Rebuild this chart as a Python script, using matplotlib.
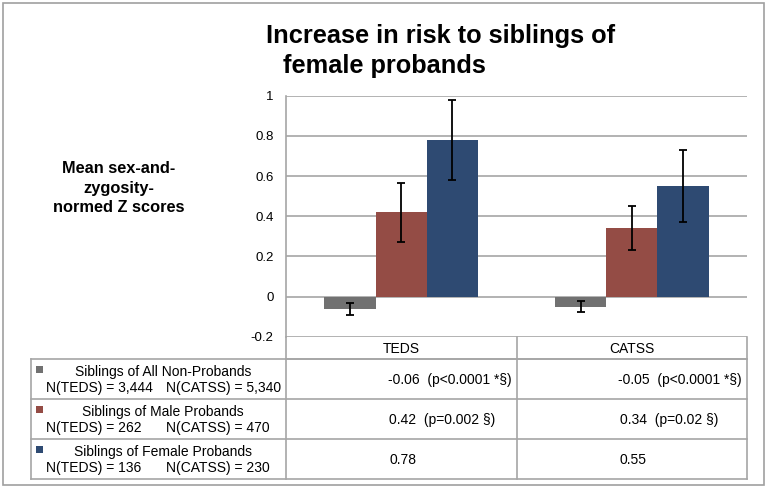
import matplotlib
matplotlib.use("Agg")
import matplotlib.pyplot as plt
from matplotlib.patches import Rectangle
from matplotlib.lines import Line2D
import numpy as np

# ---- data ----
categories = ["TEDS", "CATSS"]
series_names = ["Siblings of All Non-Probands", "Siblings of Male Probands", "Siblings of Female Probands"]
n_teds = ["3,444", "262", "136"]
n_catss = ["5,340", "470", "230"]
nonproband = [-0.06, -0.05]
male = [0.42, 0.34]
female = [0.78, 0.55]
err_nonproband = [0.03, 0.028]
err_male = [0.146, 0.11]
err_female = [0.20, 0.18]
p_nonproband = ["p<0.0001 *§", "p<0.0001 *§"]
p_male = ["p=0.002 §", "p=0.02 §"]
p_female = ["", ""]
yticks = [-0.2, 0, 0.2, 0.4, 0.6, 0.8, 1]
ytick_labels = ["-0.2", "0", "0.2", "0.4", "0.6", "0.8", "1"]

colors = ["#717171", "#944c45", "#2e4a72"]
values = [nonproband, male, female]
errors = [err_nonproband, err_male, err_female]
pvals = [p_nonproband, p_male, p_female]

plt.rcParams['font.family'] = ['Liberation Sans', 'DejaVu Sans']

W, H = 768, 488
fig = plt.figure(figsize=(W / 100, H / 100), dpi=100)

def fx(px):
    return px / W

def fy(py):
    return 1 - py / H

# pixel geometry
ax_left, ax_right = 286, 747
ax_top, ax_bottom = 95.7, 336.7

ax = fig.add_axes([fx(ax_left), fy(ax_bottom), fx(ax_right) - fx(ax_left), fy(ax_top) - fy(ax_bottom)])
x = np.arange(len(categories))
bw = 1 / 4.5
for i, (vals, errs, c) in enumerate(zip(values, errors, colors)):
    ax.bar(x + (i - 1) * bw, vals, width=bw, color=c, zorder=3)
    ax.errorbar(x + (i - 1) * bw, vals, yerr=errs, fmt='none', ecolor='black',
                elinewidth=1.3, capsize=2.6, capthick=1.3, zorder=4)
ax.set_xlim(-0.5, len(categories) - 0.5)
ax.set_ylim(-0.2, 1)
ax.set_yticks(yticks)
ax.set_yticklabels(ytick_labels, fontsize=9.5)
ax.tick_params(axis='y', length=0, pad=9)
ax.set_xticks([])
ax.grid(axis='y', color='#a6a6a6', linewidth=1.2, zorder=0)
for s in ['top', 'right', 'bottom']:
    ax.spines[s].set_visible(False)
ax.spines['left'].set_color('#a6a6a6')
ax.spines['left'].set_linewidth(1.2)

# overlay in pixel coordinates for table, title, labels
ov2 = fig.add_axes([0, 0, 1, 1], zorder=5)
ov2.set_xlim(0, W)
ov2.set_ylim(H, 0)
ov2.axis('off')
ov2.patch.set_alpha(0)

# outer frame
ov2.add_patch(Rectangle((3, 3), 761, 482, fill=False, edgecolor='#a0a0a0', linewidth=1.2))

# title
ov2.text(266, 43, "Increase in risk to siblings of", fontsize=18.3, fontweight='bold',
         ha='left', va='baseline')
ov2.text(283, 73, "female probands", fontsize=18.3, fontweight='bold',
         ha='left', va='baseline')

# y label
ov2.text(119, 188, "Mean sex-and-\nzygosity-\nnormed Z scores", fontsize=11.8, fontweight='bold',
         ha='center', va='center', linespacing=1.4)

# table
gc = '#a6a6a6'
col_x = [ax_left, 517, ax_right]
left_x = 31
header_bottom = 359
row_edges = [359, 399, 439, 479]
lw = 1.2
ov2.add_line(Line2D([col_x[0], col_x[-1]], [header_bottom, header_bottom], color=gc, lw=lw))
for yy in row_edges:
    ov2.add_line(Line2D([left_x, col_x[-1]], [yy, yy], color=gc, lw=lw))
ov2.add_line(Line2D([left_x, left_x], [row_edges[0], row_edges[-1]], color=gc, lw=lw))
for cx in col_x:
    ov2.add_line(Line2D([cx, cx], [ax_bottom, row_edges[-1]], color=gc, lw=lw))

fs = 10
for j, cat in enumerate(categories):
    ov2.text((col_x[j] + col_x[j + 1]) / 2, (ax_bottom + header_bottom) / 2 + 1, cat,
             fontsize=fs, ha='center', va='center')

for i in range(3):
    top = row_edges[i]
    bot = row_edges[i + 1]
    ov2.add_patch(Rectangle((36, top + 7), 6.5, 6.5, color=colors[i], lw=0))
    ov2.text(163, top + 13, series_names[i], fontsize=fs, ha='center', va='center')
    ov2.text(46, top + 29, f"N(TEDS) = {n_teds[i]}", fontsize=fs, ha='left', va='center')
    ov2.text(166, top + 29, f"N(CATSS) = {n_catss[i]}", fontsize=fs, ha='left', va='center')
    for j in range(len(categories)):
        v = values[i][j]
        p = pvals[i][j]
        txt = f"{v:.2f}" + (f"  ({p})" if p else "")
        yc = (top + bot) / 2 + 1
        if i == 0:
            ov2.text(col_x[j + 1] - 5, yc, txt, fontsize=fs, ha='right', va='center')
        else:
            ov2.text(col_x[j] + 103, yc, txt, fontsize=fs, ha='left', va='center')

fig.savefig("out.png", dpi=100)
